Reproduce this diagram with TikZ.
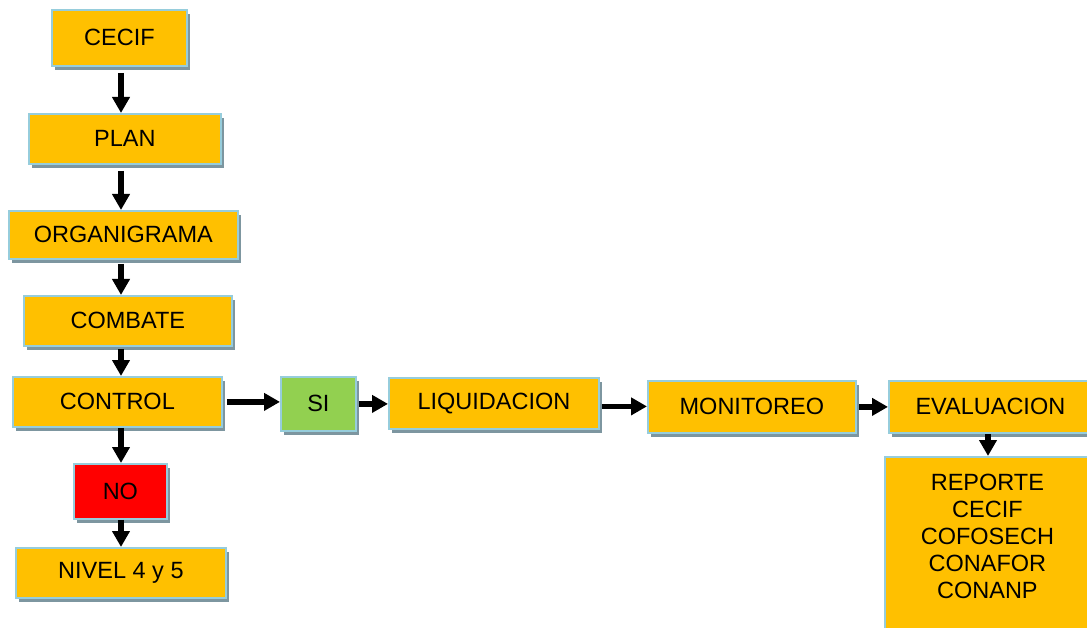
\documentclass[tikz,border=0pt]{standalone}
\usepackage{fontspec}
\setmainfont{Liberation Sans}
\usetikzlibrary{arrows.meta,shadows}
\definecolor{boxorange}{RGB}{255,192,0}
\definecolor{boxgreen}{RGB}{146,208,80}
\definecolor{boxred}{RGB}{255,0,0}
\definecolor{boxedge}{RGB}{150,205,220}
\definecolor{boxshade}{RGB}{125,150,160}
\tikzset{
  box/.style={draw=boxedge,line width=1.8pt,fill=boxorange,anchor=north west,
    inner sep=2pt,align=center,font=\fontsize{23.5}{27}\selectfont,
    drop shadow={shadow xshift=3pt,shadow yshift=-4pt,fill=boxshade,opacity=1}},
  yes/.style={box,fill=boxgreen},
  nobox/.style={box,fill=boxred},
  myarrow/.style={-{Triangle[length=16pt,width=17pt]},line width=5.5pt,black},
}
\begin{document}
\begin{tikzpicture}[x=1pt,y=-1pt]
  \useasboundingbox (0,0) rectangle (1087,628);
  \coordinate (axis) at (121,0);
  \node[box,minimum width=135,minimum height=56] (cecif) at (51,9) {CECIF};
  \node[box,minimum width=192,minimum height=50] (plan) at (28,113) {PLAN};
  \node[box,minimum width=229,minimum height=48] (organigrama) at (8,210) {ORGANIGRAMA};
  \node[box,minimum width=208,minimum height=50] (combate) at (23,295) {COMBATE};
  \node[box,minimum width=209,minimum height=50] (control) at (12,376) {CONTROL};
  \node[nobox,minimum width=93,minimum height=55] (no) at (73,463) {NO};
  \node[box,minimum width=210,minimum height=50] (nivel) at (15,547) {NIVEL 4 y 5};
  \node[yes,minimum width=75,minimum height=54] (si) at (280,376) {SI};
  \node[box,minimum width=210,minimum height=51] (liquidacion) at (388,377) {LIQUIDACION};
  \node[box,minimum width=208,minimum height=52] (monitoreo) at (647,380) {MONITOREO};
  \node[box,minimum width=203,minimum height=52] (evaluacion) at (888,380) {EVALUACION};
  \node[box,minimum width=205,minimum height=176] (reporte) at (884,456)
    {REPORTE\\CECIF\\COFOSECH\\CONAFOR\\CONANP\\[-10pt]};
  % left column
  \draw[myarrow,shorten <=6pt] (cecif.south -| axis) -- (plan.north -| axis);
  \draw[myarrow,shorten <=6pt] (plan.south -| axis) -- (organigrama.north -| axis);
  \draw[myarrow,shorten <=4pt] (organigrama.south -| axis) -- (combate.north -| axis);
  \draw[myarrow,shorten <=2pt] (combate.south -| axis) -- (control.north -| axis);
  \draw[myarrow] (control.south -| axis) -- (no.north -| axis);
  \draw[myarrow] (no.south -| axis) -- (nivel.north -| axis);
  % row
  \draw[myarrow,shorten <=4pt] (control.east) -- (control.east -| si.west);
  \draw[myarrow,shorten <=2pt] (si.east) -- (si.east -| liquidacion.west);
  \draw[myarrow,shorten <=2pt] ([yshift=-3pt]liquidacion.east) -- ([yshift=-3pt]liquidacion.east -| monitoreo.west);
  \draw[myarrow,shorten <=2pt] (monitoreo.east) -- (monitoreo.east -| evaluacion.west);
  \draw[myarrow] (evaluacion.south -| 988,0) -- (reporte.north -| 988,0);
\end{tikzpicture}
\end{document}
